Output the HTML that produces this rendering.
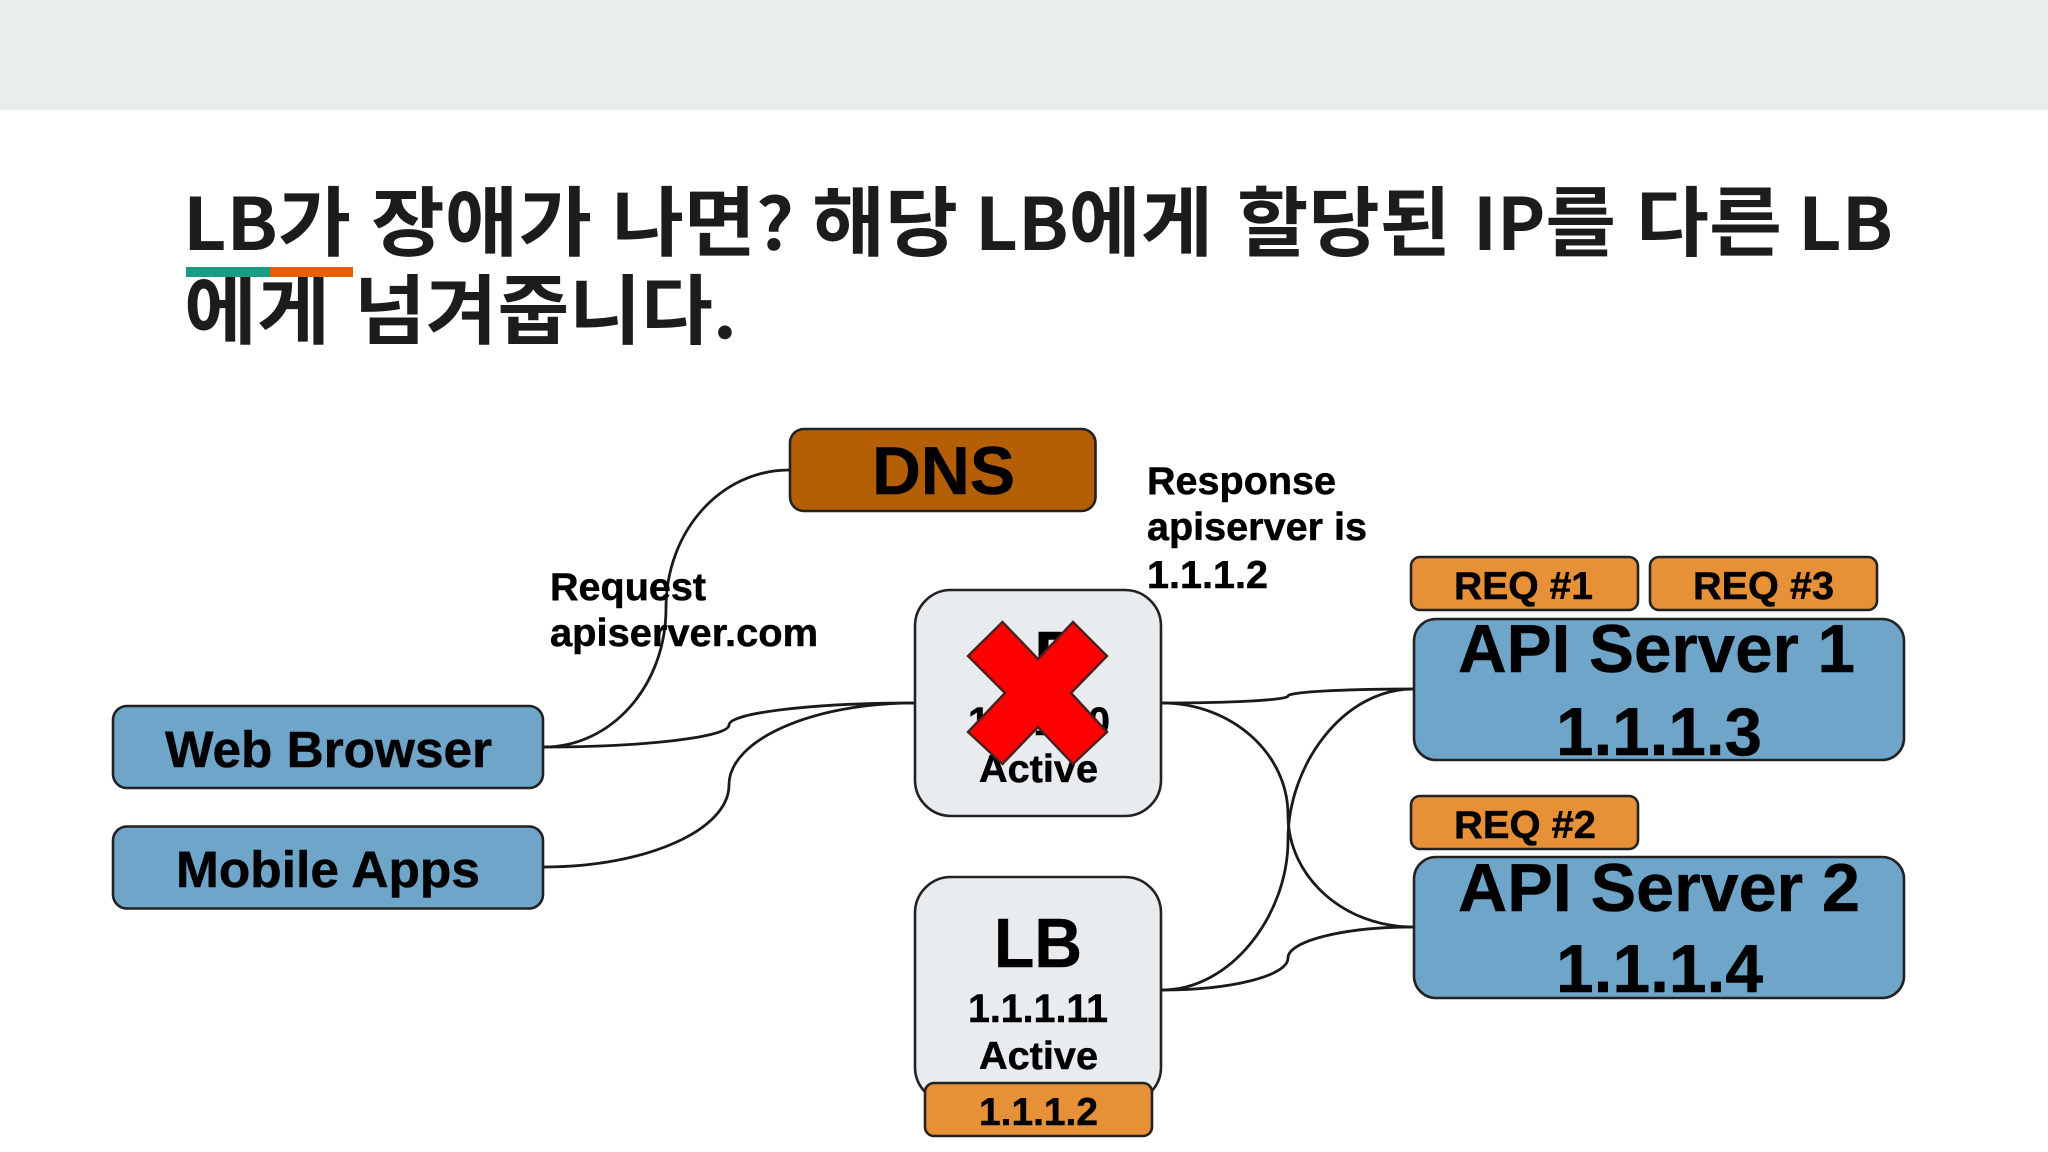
<!DOCTYPE html>
<html lang="ko"><head><meta charset="utf-8"><title>LB</title>
<style>
html,body{margin:0;padding:0;background:#fff;width:2048px;height:1152px;overflow:hidden}
svg{display:block}
.s{font-family:"Liberation Sans",sans-serif;font-weight:700;fill:#000;stroke:#000;stroke-width:.5}
.t{font-family:"Noto Sans CJK KR","Liberation Sans",sans-serif;font-weight:700;fill:#1c1c1c;font-size:76px}
.l{font-size:72px}
.b{stroke:#222;stroke-width:2.6}
.c{fill:none;stroke:#1a1a1a;stroke-width:2.8}
</style></head><body>
<svg width="2048" height="1152" viewBox="0 0 2048 1152" xmlns="http://www.w3.org/2000/svg">
<rect x="0" y="0" width="2048" height="1152" fill="#fff"/>
<rect x="0" y="0" width="2048" height="110" fill="#e9eeec"/>

<g>
<text class="t" x="183" y="250" textLength="168" lengthAdjust="spacingAndGlyphs"><tspan class="l">LB</tspan>가</text>
<text class="t" x="371" y="250" textLength="221" lengthAdjust="spacingAndGlyphs">장애가</text>
<text class="t" x="612" y="250" textLength="182" lengthAdjust="spacingAndGlyphs">나면<tspan class="l">?</tspan></text>
<text class="t" x="812" y="250" textLength="146" lengthAdjust="spacingAndGlyphs">해당</text>
<text class="t" x="975" y="250" textLength="238" lengthAdjust="spacingAndGlyphs"><tspan class="l">LB</tspan>에게</text>
<text class="t" x="1237" y="250" textLength="214" lengthAdjust="spacingAndGlyphs">할당된</text>
<text class="t" x="1473" y="250" textLength="143" lengthAdjust="spacingAndGlyphs"><tspan class="l">IP</tspan>를</text>
<text class="t" x="1636" y="250" textLength="146" lengthAdjust="spacingAndGlyphs">다른</text>
<text class="t l" x="1798" y="250" textLength="95" lengthAdjust="spacingAndGlyphs">LB</text>
<text class="t" x="184" y="338" textLength="146" lengthAdjust="spacingAndGlyphs">에게</text>
<text class="t" x="354" y="338" textLength="383" lengthAdjust="spacingAndGlyphs">넘겨줍니다<tspan class="l">.</tspan></text>
</g>
<rect x="186" y="267" width="84" height="10" fill="#1a9c84"/>
<rect x="270" y="267" width="83" height="10" fill="#e65f04"/>

<!-- connectors -->
<path class="c" d="M544 747C611 747 666 686 666 608C666 531 721 470 789 470"/>
<path class="c" d="M544 747C646 747 729 737 729 725C729 713 812 703 914 703"/>
<path class="c" d="M544 867C646 867 729 830 729 785C729 740 812 703 914 703"/>
<path class="c" d="M1162 703C1231 703 1288 700 1288 696C1288 692 1344 689 1413 689"/>
<path class="c" d="M1162 703C1231 703 1288 753 1288 815C1288 877 1344 927 1413 927"/>
<path class="c" d="M1162 990C1231 990 1288 915 1288 840C1288 764 1344 689 1413 689"/>
<path class="c" d="M1162 990C1231 990 1288 976 1288 958C1288 941 1344 927 1413 927"/>

<!-- clients -->
<rect class="b" x="113" y="706" width="430" height="82" rx="14" fill="#6ea5c9"/>
<rect class="b" x="113" y="826.500" width="430" height="82" rx="14" fill="#6ea5c9"/>
<text class="s" x="165" y="767" font-size="51" textLength="327" lengthAdjust="spacingAndGlyphs">Web Browser</text>
<text class="s" x="176" y="887" font-size="51" textLength="304" lengthAdjust="spacingAndGlyphs">Mobile Apps</text>

<!-- DNS -->
<rect class="b" x="790" y="429" width="305.500" height="82" rx="14" fill="#b45f06"/>
<text class="s" x="872" y="494" font-size="68" textLength="143" lengthAdjust="spacingAndGlyphs">DNS</text>

<!-- labels -->
<text class="s" x="550" y="600" font-size="39" textLength="156" lengthAdjust="spacingAndGlyphs">Request</text>
<text class="s" x="550" y="646" font-size="39" textLength="268" lengthAdjust="spacingAndGlyphs">apiserver.com</text>
<text class="s" x="1147" y="494" font-size="39" textLength="189" lengthAdjust="spacingAndGlyphs">Response</text>
<text class="s" x="1147" y="540" font-size="39" textLength="220" lengthAdjust="spacingAndGlyphs">apiserver is</text>
<text class="s" x="1147" y="588" font-size="39" textLength="121" lengthAdjust="spacingAndGlyphs">1.1.1.2</text>

<!-- LB 1 -->
<rect class="b" x="915" y="590" width="246" height="226" rx="36" fill="#e9ecef"/>
<text class="s" x="994" y="680" font-size="70" textLength="88" lengthAdjust="spacingAndGlyphs">LB</text>
<text class="s" x="968" y="735" font-size="40" textLength="142" lengthAdjust="spacingAndGlyphs">1.1.1.10</text>
<text class="s" x="979" y="782" font-size="39" textLength="119" lengthAdjust="spacingAndGlyphs">Active</text>
<polygon points="1002.500,622 968,656 1005,693 968,732 1002.500,764 1038,727 1073,764 1107,732 1071,693 1107,656 1073,622 1038,659" fill="#ff0000" stroke="#4a2020" stroke-width="2.4" stroke-linejoin="miter"/>

<!-- LB 2 -->
<rect class="b" x="915" y="877" width="246" height="226" rx="36" fill="#e9ecef"/>
<text class="s" x="994" y="967" font-size="70" textLength="88" lengthAdjust="spacingAndGlyphs">LB</text>
<text class="s" x="968" y="1022" font-size="40" textLength="140" lengthAdjust="spacingAndGlyphs">1.1.1.11</text>
<text class="s" x="979" y="1069" font-size="39" textLength="119" lengthAdjust="spacingAndGlyphs">Active</text>
<rect class="b" x="925" y="1083" width="227" height="53" rx="9" fill="#e69138"/>
<text class="s" x="979" y="1125" font-size="39" textLength="119" lengthAdjust="spacingAndGlyphs">1.1.1.2</text>

<!-- REQ -->
<rect class="b" x="1411" y="557" width="227" height="53" rx="9" fill="#e69138"/>
<rect class="b" x="1650" y="557" width="227" height="53" rx="9" fill="#e69138"/>
<rect class="b" x="1411" y="796" width="227" height="53" rx="9" fill="#e69138"/>
<text class="s" x="1454" y="599" font-size="39" textLength="139" lengthAdjust="spacingAndGlyphs">REQ #1</text>
<text class="s" x="1693" y="599" font-size="39" textLength="141" lengthAdjust="spacingAndGlyphs">REQ #3</text>
<text class="s" x="1454" y="838" font-size="39" textLength="142" lengthAdjust="spacingAndGlyphs">REQ #2</text>

<!-- API servers -->
<rect class="b" x="1414" y="619" width="490" height="141" rx="22" fill="#6ea5c9"/>
<rect class="b" x="1414" y="857" width="490" height="141" rx="22" fill="#6ea5c9"/>
<text class="s" x="1458" y="672" font-size="68" textLength="397" lengthAdjust="spacingAndGlyphs">API Server 1</text>
<text class="s" x="1556" y="755" font-size="68" textLength="206" lengthAdjust="spacingAndGlyphs">1.1.1.3</text>
<text class="s" x="1458" y="911" font-size="68" textLength="402" lengthAdjust="spacingAndGlyphs">API Server 2</text>
<text class="s" x="1556" y="992" font-size="68" textLength="207" lengthAdjust="spacingAndGlyphs">1.1.1.4</text>
</svg>
</body></html>
